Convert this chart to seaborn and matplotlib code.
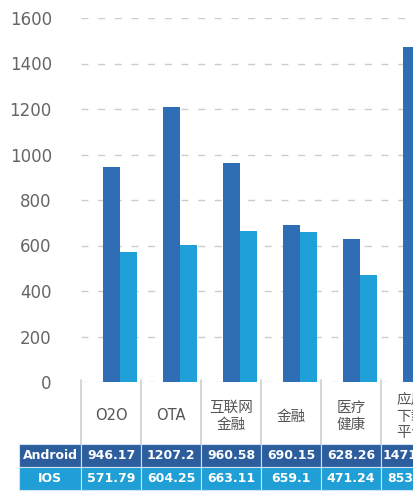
import pandas as pd
import matplotlib
matplotlib.use("Agg")
import matplotlib.pyplot as plt
import matplotlib.transforms as mtransforms
from matplotlib.patches import Rectangle
import seaborn as sns

# data
categories = ["O2O", "OTA", "互联网\n金融", "金融", "医疗\n健康", "应用\n下载\n平台"]
android = [946.17, 1207.2, 960.58, 690.15, 628.26, 1471.52]
ios = [571.79, 604.25, 663.11, 659.1, 471.24, 853.66]
android_labels = ["946.17", "1207.2", "960.58", "690.15", "628.26", "1471.52"]
ios_labels = ["571.79", "604.25", "663.11", "659.1", "471.24", "853.66"]
series = ["Android", "IOS"]

bar_colors = ["#2f6db5", "#1fa0d8"]
row_colors = ["#2c5e9e", "#1f9fd6"]

df = pd.DataFrame({
    "cat": categories * 2,
    "value": android + ios,
    "series": ["Android"] * len(categories) + ["IOS"] * len(categories),
})

sns.set_style("white")
plt.rcParams["font.family"] = ["DejaVu Sans", "Noto Sans CJK SC"]

W, H = 413, 492
fig = plt.figure(figsize=(W / 100, H / 100), dpi=100)
col_px = 60
left_px, bottom_px, top_px = 81, 382, 18
ax = fig.add_axes([left_px / W, 1 - bottom_px / H,
                   col_px * len(categories) / W, (bottom_px - top_px) / H])

sns.barplot(data=df, x="cat", y="value", hue="series", palette=bar_colors,
            width=0.57, linewidth=0, saturation=1, legend=False, ax=ax)

ax.set_xlim(-0.65, len(categories) - 0.65)
ax.set_ylim(0, 1600)
ax.set_yticks(range(0, 1601, 200))
ax.set_xticks([])
ax.set_xlabel("")
ax.set_ylabel("")
ax.tick_params(axis="y", length=0, pad=21, labelsize=12, labelcolor="#666666")
for s in ax.spines.values():
    s.set_visible(False)
ax.yaxis.grid(True, color="#cccccc", linestyle=(0, (5, 7)), linewidth=1)
ax.set_axisbelow(True)

# table under the plot
tr = mtransforms.blended_transform_factory(ax.transData, fig.transFigure)
def fy(px):
    return 1 - px / H

lab_top, row1, row2, row3 = 380, 444, 467, 490
for i in range(len(categories) + 1):
    ax.plot([i - 0.65, i - 0.65], [fy(lab_top), fy(row1)], color="#d3d3d3",
            lw=1.3, transform=tr, clip_on=False)

hdr_left = -0.65 - 62 / col_px
rows = [(android_labels, row1, row2), (ios_labels, row2, row3)]
for r, (labels, y0, y1) in enumerate(rows):
    ax.add_patch(Rectangle((hdr_left, fy(y1)), 62 / col_px, fy(y0) - fy(y1),
                           facecolor=row_colors[r], edgecolor="#cfe3f3", lw=0.8,
                           transform=tr, clip_on=False))
    ax.text(hdr_left + 31 / col_px, (fy(y0) + fy(y1)) / 2, series[r],
            color="white", fontsize=9, fontweight="bold", ha="center",
            va="center", transform=tr)
    for i, lab in enumerate(labels):
        ax.add_patch(Rectangle((i - 0.65, fy(y1)), 1, fy(y0) - fy(y1),
                               facecolor=row_colors[r], edgecolor="#cfe3f3",
                               lw=0.8, transform=tr, clip_on=False))
        ax.text(i - 0.15, (fy(y0) + fy(y1)) / 2, lab, color="white",
                fontsize=9, fontweight="bold", ha="center", va="center",
                transform=tr)

for i, c in enumerate(categories):
    ax.text(i - 0.15, fy(416), c, color="#555555", fontsize=10.5,
            ha="center", va="center", linespacing=1.15, transform=tr)

fig.savefig("out.png", dpi=100)
